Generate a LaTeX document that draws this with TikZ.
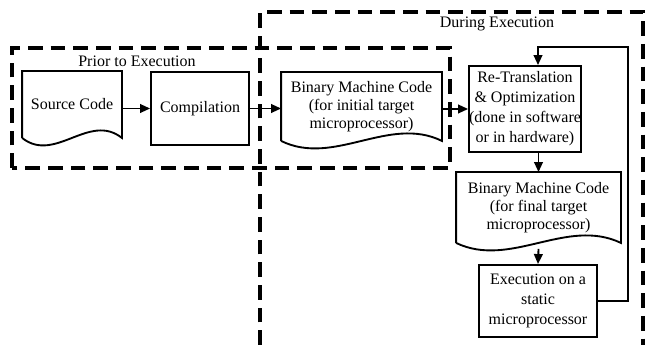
\documentclass[tikz,border=0pt]{standalone}
\usepackage{fontspec}
\setmainfont{Liberation Serif}
\usetikzlibrary{arrows.meta,calc}

\tikzset{
  block/.style={draw, line width=1.4pt, align=center, inner sep=0pt,
    font=\fontsize{12}{15}\selectfont},
  doc/.style={block, draw=none, font=\fontsize{12}{13.5}\selectfont},
  caption/.style={font=\fontsize{12}{15}\selectfont},
  frame/.style={line width=2.3pt, dash pattern=on 11pt off 6pt},
  link/.style={->, line width=1.4pt},
}

\begin{document}
\begin{tikzpicture}[x=0.75pt, y=0.75pt, >={Triangle[length=7.5pt,width=6.5pt]}]
\useasboundingbox (0,0) rectangle (647,345);

% dashed frames
\draw [frame] (260,0) -- (260,333) -- (643,333) -- (643,0);
\draw [frame] (12,177) rectangle (450,297);
\node [caption] (prior) at (137,284) {Prior to Execution};
\node [caption] (during) at (497,321) {During Execution};

% stages
\node [doc, minimum width=73.5pt, minimum height=48.75pt] (src) at (72,240.5) {Source Code};
\node [block, minimum width=73.5pt, minimum height=54.75pt] (comp) at (200,236.5) {Compilation};
\node [doc, minimum width=119.25pt, minimum height=50.25pt] (bin1) at (361.5,238.5)
  {Binary Machine Code\\(for initial target\\microprocessor)};
\node [block, minimum width=79.5pt, minimum height=64.5pt] (retr) at (525,236)
  {Re-Translation\\\& Optimization\\(done in software\\or in hardware)};
\node [doc, minimum width=122.25pt, minimum height=51.75pt] (bin2) at (538.5,137.5)
  {Binary Machine Code\\(for final target\\microprocessor)};
\node [block, minimum width=88.5pt, minimum height=54pt] (exec) at (538,44)
  {Execution on a\\static\\microprocessor};

% document outlines with wavy bottom
\foreach \n in {src,bin1,bin2}
  \draw [line width=1.4pt] (\n.south west) -- (\n.north west) -- (\n.north east) -- (\n.south east)
    .. controls ($(\n.south east)!0.33!(\n.south west)+(0,26)$)
       and ($(\n.south east)!0.67!(\n.south west)+(0,-26)$) .. (\n.south west);

% flow
\draw [link] (src.east |- comp.west) -- (comp.west);
\draw [link] (comp.east) -- (comp.east -| bin1.west);
\draw [link] (bin1.east |- retr.west) -- (retr.west);
\draw [link] (retr.south -| bin2.north) -- (bin2.north);
\draw [link] ($(bin2.south)+(0,-6)$) -- (exec.north);

% feedback loop
\coordinate (fb) at (628,298);
\draw [link] (exec.east) -| (fb) -| (retr.north -| exec.north);

\end{tikzpicture}
\end{document}
